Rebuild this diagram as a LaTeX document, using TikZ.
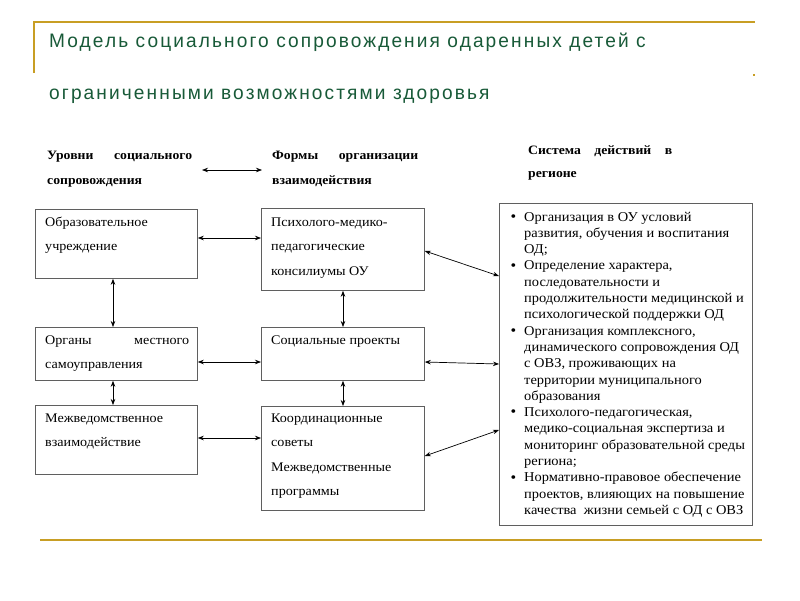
\documentclass[tikz,border=0pt]{standalone}
\usepackage{fontspec}
\setmainfont[FakeStretch=1.07]{Liberation Serif}
\newfontfamily\titlefont[FakeStretch=0.98,LetterSpace=10.8]{Liberation Sans}
\usetikzlibrary{arrows.meta}
\definecolor{gold}{RGB}{200,158,36}
\definecolor{tgreen}{RGB}{24,90,56}
\definecolor{boxgray}{RGB}{95,95,95}
\begin{document}
\begin{tikzpicture}[x=1pt,y=-1pt,
  box/.style={draw=boxgray, line width=0.8pt, inner sep=0pt, anchor=north west},
  txt/.style={anchor=base west, inner sep=0pt, font=\fontsize{13.2}{24.5}\selectfont},
  hdr/.style={anchor=base west, inner sep=0pt, font=\fontsize{12.8}{24.5}\selectfont\bfseries},
  ttl/.style={anchor=base west, inner sep=0pt, text=tgreen, font=\titlefont\fontsize{19.5}{24}\selectfont},
  conn/.style={draw=black, line width=0.7pt, {Stealth[length=6pt,width=4.5pt]}-{Stealth[length=6pt,width=4.5pt]}},
  goldline/.style={draw=gold, line width=2.2pt}
]
\useasboundingbox (0,0) rectangle (800,600);
\fill[white] (0,0) rectangle (800,600);

% decorative gold lines
\coordinate (g1) at (34,73);
\coordinate (g2) at (34,22);
\coordinate (g3) at (755,22);
\draw[goldline] (g1) -- (g2) -- (g3);
\coordinate (gd) at (753,74);
\fill[gold] (gd) rectangle ++(1.5,1.5);
\coordinate (b1l) at (40,540);
\coordinate (b1r) at (762,540);
\draw[goldline, line width=2.5pt] (b1l) -- (b1r);

% title
\node[ttl] (t1) at (49,47) {Модель социального сопровождения одаренных детей с};
\node[ttl] (t2) at (49,99) {ограниченными возможностями здоровья};

% headers
\node[hdr] (h1a) at (47,159) {\makebox[145pt][s]{Уровни социального}};
\node[hdr] (h1b) at (47,184) {сопровождения};
\node[hdr] (h2a) at (272,159) {\makebox[146pt][s]{Формы организации}};
\node[hdr] (h2b) at (272,184) {взаимодействия};
\node[hdr] (h3a) at (528,154) {\makebox[144pt][s]{Система действий в}};
\node[hdr] (h3b) at (528,177) {регионе};
\coordinate (ha1) at (202,170);
\coordinate (ha2) at (262,170);
\draw[conn] (ha1) -- (ha2);

% left column
\node[box, minimum width=162pt, minimum height=69pt] (b1) at (35,209) {};
\node[txt] (b1t) at (45,226) {\parbox[t]{145pt}{Образовательное\\учреждение}};
\node[box, minimum width=162pt, minimum height=53pt] (b2) at (35,327) {};
\node[txt] (b2t) at (45,344) {\parbox[t]{145pt}{\makebox[144pt][s]{Органы местного}\\самоуправления}};
\node[box, minimum width=162pt, minimum height=69pt] (b3) at (35,405) {};
\node[txt] (b3t) at (45,422) {\parbox[t]{145pt}{Межведомственное\\взаимодействие}};

% middle column
\node[box, minimum width=163pt, minimum height=82pt] (m1) at (261,208) {};
\node[txt] (m1t) at (271,226) {\parbox[t]{150pt}{Психолого-медико-\\педагогические\\консилиумы ОУ}};
\node[box, minimum width=163pt, minimum height=53pt] (m2) at (261,327) {};
\node[txt] (m2t) at (271,344) {Социальные проекты};
\node[box, minimum width=163pt, minimum height=104pt] (m3) at (261,406) {};
\node[txt] (m3t) at (271,422) {\parbox[t]{150pt}{Координационные\\советы\\Межведомственные\\программы}};

% right column
\node[box, minimum width=253pt, minimum height=322pt] (r) at (499,203) {};
\newcommand\bul{\leavevmode\llap{\raisebox{-0.3pt}{\fontsize{15}{15}\selectfont\textbullet}\hspace{8pt}}}
\node[anchor=base west, inner sep=0pt, font=\fontsize{13.5}{16.3}\selectfont] (rt) at (524,221) {\parbox[t]{228pt}{%
\bul Организация в ОУ условий\\
развития, обучения и воспитания\\
ОД;\\
\bul Определение характера,\\
последовательности и\\
продолжительности медицинской и\\
психологической поддержки ОД\\
\bul Организация комплексного,\\
динамического сопровождения ОД\\
с ОВЗ, проживающих на\\
территории муниципального\\
образования\\
\bul Психолого-педагогическая,\\
медико-социальная экспертиза и\\
мониторинг образовательной среды\\
региона;\\
\bul Нормативно-правовое обеспечение\\
проектов, влияющих на повышение\\
качества~ жизни семьей с ОД с ОВЗ}};

% connectors
\draw[conn] (b1.east |- 0,238) -- (m1.west |- 0,238);
\draw[conn] (b2.east |- 0,362) -- (m2.west |- 0,362);
\draw[conn] (b3.east |- 0,438) -- (m3.west |- 0,438);
\draw[conn] (b1.south -| 113,0) -- (b2.north -| 113,0);
\draw[conn] (b2.south -| 113,0) -- (b3.north -| 113,0);
\draw[conn] (m1.south -| 343,0) -- (m2.north -| 343,0);
\draw[conn] (m2.south -| 343,0) -- (m3.north -| 343,0);
\draw[conn] (m1.east |- 0,251) -- (r.west |- 0,276);
\draw[conn] (m2.east |- 0,362) -- (r.west |- 0,364);
\draw[conn] (m3.east |- 0,456) -- (r.west |- 0,430);
\end{tikzpicture}
\end{document}
